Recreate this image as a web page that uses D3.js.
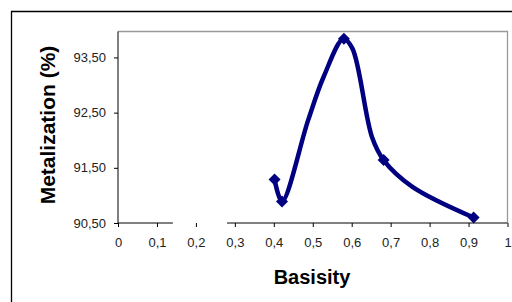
<!DOCTYPE html>
<html><head><meta charset="utf-8">
<script src="https://cdn.jsdelivr.net/npm/d3@7"></script>
<style>body{margin:0;background:#fff}svg{display:block}</style>
</head><body>
<script>
// Data
const lineBasisity = [0.402, 0.421, 0.488, 0.528, 0.579, 0.602, 0.652, 0.682, 0.755, 0.913];
const lineMetal    = [91.29, 90.89, 92.36, 93.15, 93.84, 93.66, 92.06, 91.64, 91.16, 90.60];
const markBasisity = [0.402, 0.421, 0.580, 0.682, 0.913];
const markMetal    = [91.29, 90.89, 93.84, 91.64, 90.60];
const xTicks = [0,0.1,0.2,0.3,0.4,0.5,0.6,0.7,0.8,0.9,1];
const yTicks = [90.5, 91.5, 92.5, 93.5];

const W = 512, H = 302;
const svg = d3.select("body").append("svg").attr("width", W).attr("height", H);
const font = "'Liberation Sans', Arial, sans-serif";

// outer chart border
svg.append("path").attr("d", `M11.5,${H+2}V11.5H${W+2}`).attr("fill","none").attr("stroke","#000").attr("stroke-width",1.3);

const L = 118, R = 507.5, T = 31.5, B = 223;
const x = d3.scaleLinear().domain([0,1]).range([L, R]);
const y = d3.scaleLinear().domain([90.5, 93.97]).range([B, T]);

// plot area border (gray)
svg.append("path").attr("d", `M${L},${T}H${R}V${B}`).attr("fill","none").attr("stroke","#999").attr("stroke-width",1.3);

// y axis
const yAxis = d3.axisLeft(y).tickValues(yTicks).tickSize(4).tickPadding(8)
  .tickFormat(d => d3.format(".2f")(d).replace(".", ","));
const gy = svg.append("g").attr("transform", `translate(${L},0)`).call(yAxis);
gy.select(".domain").attr("d", `M0,${T}V${B}`).attr("stroke","#000");
gy.selectAll("text").attr("font-family", font).attr("font-size", 13).attr("fill","#222");

// x axis
const xAxis = d3.axisBottom(x).tickValues(xTicks).tickSize(4).tickPadding(11)
  .tickFormat(d => String(d).replace(".", ","));
const gx = svg.append("g").attr("transform", `translate(0,${B})`).call(xAxis);
gx.select(".domain").remove();
gx.append("path").attr("d", `M${L},0H${x(0.141)}M${x(0.28)},0H${R}`).attr("stroke","#000").attr("fill","none");
gx.selectAll("text").attr("font-family", font).attr("font-size", 13).attr("fill","#222");

// axis titles
svg.append("text").attr("x", 312).attr("y", 284).attr("text-anchor","middle")
  .attr("font-family", font).attr("font-weight","bold").attr("font-size", 20).text("Basisity");
svg.append("text").attr("transform", "translate(55,125) rotate(-90)").attr("text-anchor","middle")
  .attr("font-family", font).attr("font-weight","bold").attr("font-size", 21).text("Metalization (%)");

// line
const pts = lineBasisity.map((b,i) => [b, lineMetal[i]]);
const line = d3.line().x(d => x(d[0])).y(d => y(d[1])).curve(d3.curveCatmullRom.alpha(0.5));
svg.append("path").datum(pts).attr("d", line).attr("fill","none")
  .attr("stroke","#000080").attr("stroke-width",4.5).attr("stroke-linejoin","round").attr("stroke-linecap","round");

// markers
const mk = markBasisity.map((b,i) => [b, markMetal[i]]);
svg.selectAll(".mk").data(mk).enter().append("path")
  .attr("transform", d => `translate(${x(d[0])},${y(d[1])})`)
  .attr("d", "M0,-6L6,0L0,6L-6,0Z").attr("fill","#000080");
</script>
</body></html>
